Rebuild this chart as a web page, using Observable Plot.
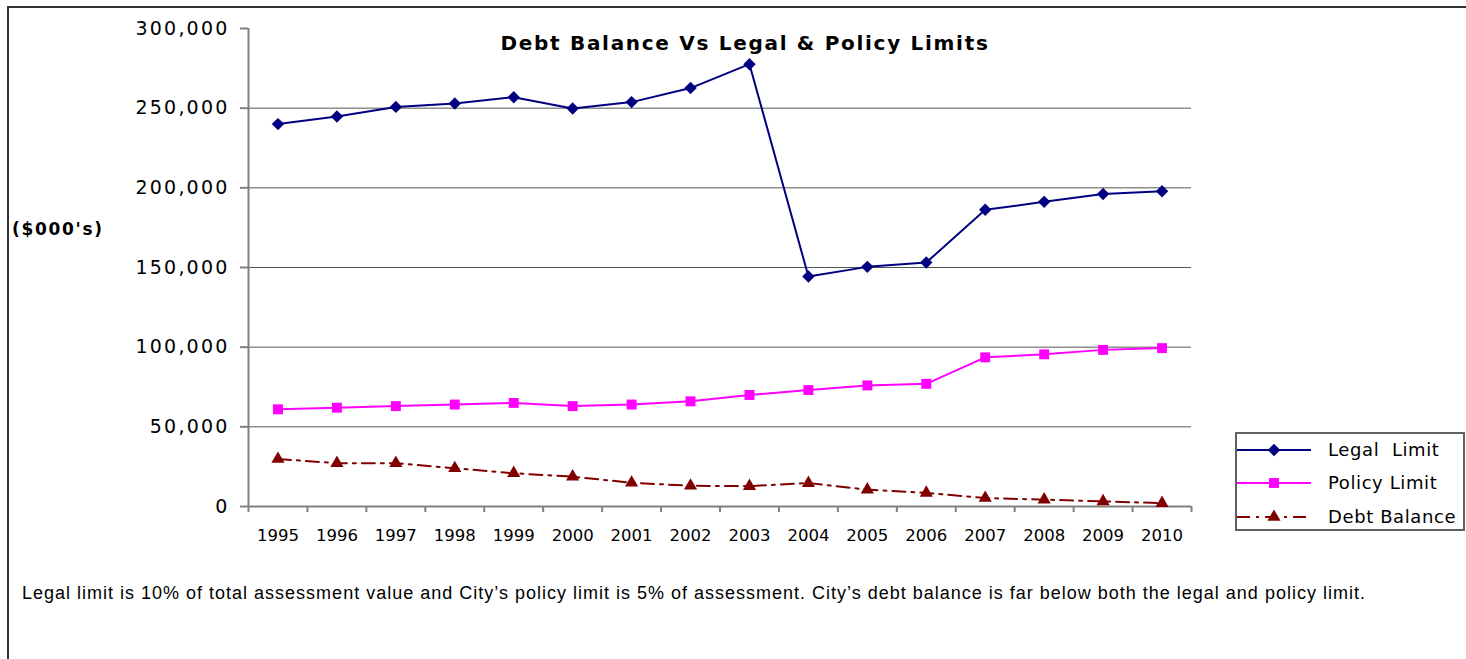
<!DOCTYPE html>
<html>
<head>
<meta charset="utf-8">
<script src="https://cdn.jsdelivr.net/npm/d3@7"></script>
<script src="https://cdn.jsdelivr.net/npm/@observablehq/plot@0.6"></script>
<style>
  body { margin: 0; background: #fff; overflow: hidden; }
  #wrap { position: relative; width: 1466px; height: 659px; overflow: hidden; font-family: "DejaVu Sans", sans-serif; }
  #wrap svg { position: absolute; left: 0; top: 0; }
  #frame { position: absolute; left: 7px; top: 6px; width: 1480px; height: 680px; border-top: 2px solid #333; border-left: 2px solid #333; }
  #title { position: absolute; left: 0; width: 1490px; top: 33px; line-height: 20px; text-align: center; font-weight: bold; font-size: 20px; letter-spacing: 1.7px; color: #000; }
  #ylabel { position: absolute; left: 12px; top: 219px; line-height: 20px; font-weight: bold; font-size: 17px; letter-spacing: 1.7px; color: #000; }
  #note { position: absolute; left: 22px; top: 583px; line-height: 20px; font-family: "Liberation Sans", Arial, sans-serif; font-size: 18px; letter-spacing: 1.0px; color: #000; white-space: nowrap; }
  #legend { position: absolute; left: 1235px; top: 432px; width: 230px; height: 99px; box-sizing: border-box; border: 2px solid #606060; background: #fff; }
  .lrow { position: absolute; left: 0; height: 20px; }
  .lrow svg { position: absolute; left: 7px; top: 0; }
  .lrow span { position: absolute; left: 91px; top: 0; line-height: 20px; font-size: 18px; letter-spacing: 0.6px; white-space: pre; color: #000; }
  g[aria-label="y-axis tick label"] text { letter-spacing: 2.2px; }
</style>
</head>
<body>
<div id="wrap">
  <div id="frame"></div>
  <div id="title"></div>
  <div id="ylabel"></div>
  <div id="note"></div>
  <div id="legend"></div>
</div>
<script>
const years = [1995, 1996, 1997, 1998, 1999, 2000, 2001, 2002, 2003, 2004, 2005, 2006, 2007, 2008, 2009, 2010];
const legalLimit = [240000, 244800, 250800, 252900, 256900, 249800, 253800, 262600, 277600, 144400, 150400, 153100, 186200, 191200, 196100, 197900];
const policyLimit = [61000, 62000, 63000, 64000, 65000, 63000, 64000, 66000, 70000, 73100, 76000, 77000, 93600, 95500, 98300, 99400];
const debtBalance = [29800, 27200, 27200, 24000, 20900, 18700, 14900, 13000, 12800, 14700, 10600, 8500, 5300, 4300, 3200, 2100];
const seriesNames = ["Legal  Limit", "Policy Limit", "Debt Balance"];
const seriesColors = ["#000080", "#FF00FF", "#800000"];
const yTicks = [0, 50000, 100000, 150000, 200000, 250000, 300000];
const gridTicks = [50000, 100000, 150000, 200000, 250000];
const titleText = "Debt Balance Vs Legal & Policy Limits";
const yLabelText = "($000's)";
const noteText = "Legal limit is 10% of total assessment value and City\u2019s policy limit is 5% of assessment. City\u2019s debt balance is far below both the legal and policy limit.";

const legalData = years.map((year, i) => ({year, value: legalLimit[i]}));
const policyData = years.map((year, i) => ({year, value: policyLimit[i]}));
const debtData = years.map((year, i) => ({year, value: debtBalance[i]}));
const boundaries = [...years.map(y => y - 0.5), years[years.length - 1] + 0.5];

const dash = "13,6,3,6";
const rSym = [5.6, 5.6, 4.9];

const chart = Plot.plot({
  width: 1466,
  height: 659,
  marginLeft: 248,
  marginRight: 275,
  marginTop: 28,
  marginBottom: 153,
  style: {fontFamily: "DejaVu Sans, sans-serif", background: "transparent", color: "#000"},
  x: {type: "linear", domain: [years[0] - 0.5, years[years.length - 1] + 0.5], axis: null},
  y: {domain: [0, 300000], axis: null},
  marks: [
    Plot.ruleY(gridTicks, {stroke: "#555", strokeWidth: 1}),
    Plot.axisY({ticks: yTicks, tickSize: 8, tickFormat: () => "", stroke: "#808080", strokeWidth: 2, label: null}),
    Plot.axisY({ticks: yTicks, tickSize: 0, tickPadding: 19, tickFormat: d3.format(","), fontSize: 19, fill: "#000", label: null}),
    Plot.axisX({ticks: boundaries, tickSize: 6, tickFormat: () => "", stroke: "#808080", strokeWidth: 2, label: null}),
    Plot.axisX({ticks: years, tickSize: 0, tickPadding: 23, tickFormat: d => String(d), fontSize: 16.5, fill: "#000", label: null}),
    Plot.ruleX([years[0] - 0.5], {stroke: "#808080", strokeWidth: 2}),
    Plot.ruleY([0], {stroke: "#808080", strokeWidth: 2}),
    Plot.line(debtData, {x: "year", y: "value", stroke: seriesColors[2], strokeWidth: 2, strokeDasharray: dash}),
    Plot.dot(debtData, {x: "year", y: "value", symbol: "triangle", r: rSym[2], fill: seriesColors[2], stroke: "none"}),
    Plot.line(policyData, {x: "year", y: "value", stroke: seriesColors[1], strokeWidth: 2}),
    Plot.dot(policyData, {x: "year", y: "value", symbol: "square", r: rSym[1], fill: seriesColors[1], stroke: "none"}),
    Plot.line(legalData, {x: "year", y: "value", stroke: seriesColors[0], strokeWidth: 2}),
    Plot.dot(legalData, {x: "year", y: "value", symbol: "diamond2", r: rSym[0], fill: seriesColors[0], stroke: "none"})
  ]
});
document.getElementById("wrap").insertBefore(chart, document.getElementById("frame"));

document.getElementById("title").textContent = titleText;
document.getElementById("ylabel").textContent = yLabelText;
document.getElementById("note").textContent = noteText;

// legend
const legend = document.getElementById("legend");
const symbols = [d3.symbolDiamond2, d3.symbolSquare, d3.symbolTriangle];
const dashes = [null, null, dash];
const rowTops = [6, 39, 73];
seriesNames.forEach((name, i) => {
  const row = document.createElement("div");
  row.className = "lrow";
  row.style.top = rowTops[i] + "px";
  row.style.width = "226px";
  const svg = d3.create("svg").attr("width", 76).attr("height", 20);
  svg.append("line").attr("x1", 0).attr("x2", 74).attr("y1", 10).attr("y2", 10)
    .attr("stroke", seriesColors[i]).attr("stroke-width", 2)
    .attr("stroke-dasharray", dashes[i]);
  svg.append("path").attr("transform", "translate(37,10)")
    .attr("d", d3.symbol(symbols[i], Math.PI * rSym[i] * rSym[i])()).attr("fill", seriesColors[i]);
  row.appendChild(svg.node());
  const span = document.createElement("span");
  span.textContent = name;
  row.appendChild(span);
  legend.appendChild(row);
});
</script>
</body>
</html>
